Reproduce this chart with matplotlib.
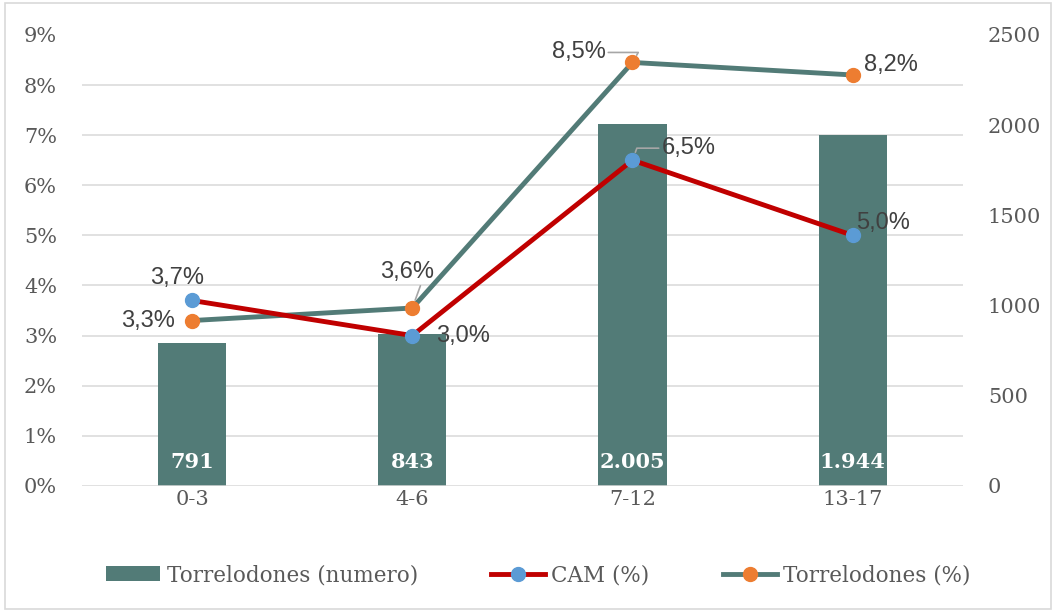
import numpy as np
import matplotlib
matplotlib.use('Agg')
import matplotlib.pyplot as plt
from matplotlib.ticker import FixedLocator, FuncFormatter
from matplotlib.patches import Rectangle

# data
grupos = ['0-3', '4-6', '7-12', '13-17']
torre_num = [791, 843, 2005, 1944]
cam_pct = [3.7, 3.0, 6.5, 5.0]
torre_pct = [3.3, 3.55, 8.45, 8.2]
cam_lbl = ['3,7%', '3,0%', '6,5%', '5,0%']
torre_lbl = ['3,3%', '3,6%', '8,5%', '8,2%']

gris = '#595959'
verde = '#527B77'
rojo = '#C00000'
azul = '#5B9BD5'
naranja = '#ED7D31'
serif = 'DejaVu Serif'

plt.rcParams['font.family'] = serif

fig = plt.figure(figsize=(10.56, 6.12), dpi=100)
fig.patches.append(Rectangle((0.005, 0.005), 0.99, 0.99, transform=fig.transFigure,
                             fill=False, edgecolor='#D9D9D9', linewidth=1.2))

ax = fig.add_axes([0.0777, 0.206, 0.834, 0.737])
ax2 = ax.twinx()
ax.set_zorder(2)
ax.patch.set_visible(False)
ax2.set_zorder(1)

x = np.arange(len(grupos))

# bars on the right axis
bars = ax2.bar(x, torre_num, width=0.31, color=verde, label='Torrelodones (numero)', zorder=2)
ax2.set_ylim(0, 2500)
ax2.set_yticks([0, 500, 1000, 1500, 2000, 2500])
ax2.yaxis.set_minor_locator(FixedLocator(np.linspace(0, 2500, 10)))
ax2.grid(which='minor', axis='y', color='#D9D9D9', linewidth=1.1, zorder=0)
ax2.tick_params(axis='y', which='both', length=0, pad=18, labelsize=15, labelcolor=gris)
for b, v in zip(bars, torre_num):
    ax2.annotate(f'{v:,}'.replace(',', '.'), (b.get_x() + b.get_width() / 2, 0),
                 xytext=(0, 17), textcoords='offset points', ha='center', va='center',
                 color='white', fontsize=15, fontweight='bold', zorder=3)

# lines on the left axis
ax.plot(x, torre_pct, color=verde, linewidth=3.5, marker='o', markersize=10,
        markerfacecolor=naranja, markeredgecolor=naranja, label='Torrelodones (%)', zorder=3)
ax.plot(x, cam_pct, color=rojo, linewidth=3.5, marker='o', markersize=10,
        markerfacecolor=azul, markeredgecolor=azul, label='CAM (%)', zorder=4)
ax.set_ylim(0, 9)
ax.set_xlim(-0.5, 3.5)
ax.set_yticks(range(10))
ax.yaxis.set_major_formatter(FuncFormatter(lambda v, p: f'{int(v)}%'))
ax.tick_params(axis='y', length=0, pad=18, labelsize=15, labelcolor=gris)
ax.set_xticks(x)
ax.set_xticklabels(grupos)
ax.tick_params(axis='x', length=0, pad=3, labelsize=15, labelcolor=gris)

for a in (ax, ax2):
    for s in a.spines.values():
        s.set_visible(False)
ax.axhline(0, color='#D9D9D9', linewidth=1.1, zorder=1)

# data labels
lab = dict(fontsize=17, color='#404040', family='Liberation Sans', va='center')
lead = dict(arrowstyle='-', color='#A6A6A6', linewidth=1.2, shrinkA=0, shrinkB=6)


def pl(v, s, dx, dy, ha, flecha=False, cs=None):
    kw = dict(xytext=(dx * 0.72, dy * 0.72), textcoords='offset points', ha=ha, **lab)
    if flecha:
        kw['arrowprops'] = dict(lead, connectionstyle=cs)
    ax.annotate(s, v, zorder=6, **kw)


pl((0, cam_pct[0]), cam_lbl[0], -15, 22, 'center')
pl((0, torre_pct[0]), torre_lbl[0], -17, 0, 'right')
pl((1, torre_pct[1]), torre_lbl[1], -5, 36, 'center', True, 'angle,angleA=0,angleB=70,rad=0')
pl((1, cam_pct[1]), cam_lbl[1], 24, 0, 'left')
pl((2, torre_pct[2]), torre_lbl[2], -27, 10, 'right', True, 'angle,angleA=0,angleB=60,rad=0')
pl((2, cam_pct[2]), cam_lbl[2], 29, 12, 'left', True, 'angle,angleA=180,angleB=70,rad=0')
pl((3, cam_pct[3]), cam_lbl[3], 3, 12, 'left')
pl((3, torre_pct[3]), torre_lbl[3], 11, 10, 'left')

h1, l1 = ax2.get_legend_handles_labels()
h2, l2 = ax.get_legend_handles_labels()
fig.legend([h1[0], h2[1], h2[0]], [l1[0], l2[1], l2[0]], loc='center',
           bbox_to_anchor=(0.51, 0.06), ncol=3, frameon=False, fontsize=15.5,
           labelcolor=gris, handlelength=2.5, handletextpad=0.3, columnspacing=3.4)

fig.savefig('out.png', dpi=100)
